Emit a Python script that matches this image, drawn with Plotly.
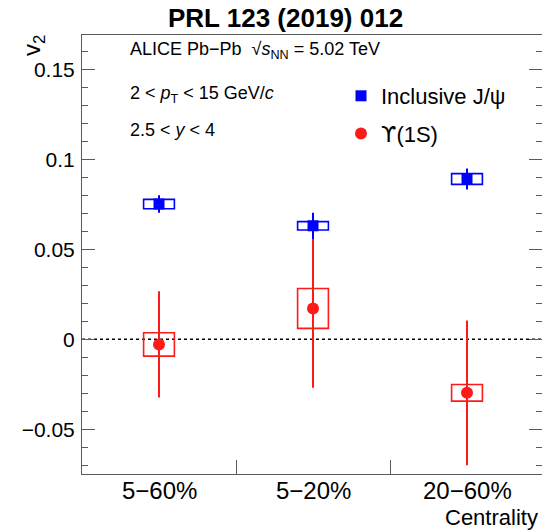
import plotly.graph_objects as go

# Centrality classes and bin centres on the category axis
centrality = ["5−60%", "5−20%", "20−60%"]
bin_centres = [0.5, 1.5, 2.5]

# Inclusive J/psi v2 with statistical and systematic uncertainties
jpsi_v2 = [0.0752, 0.0631, 0.0891]
jpsi_stat = [0.0048, 0.0073, 0.0058]
jpsi_syst = [0.0026, 0.0023, 0.0030]

# Upsilon(1S) v2 with statistical and systematic uncertainties
ups_v2 = [-0.0028, 0.0172, -0.0297]
ups_stat = [0.0295, 0.0441, 0.0402]
ups_syst = [0.0065, 0.0111, 0.0046]

BOX_HALF_WIDTH = 0.1
BLUE = "#0000ff"
RED = "#ff1a1a"
AXIS = "#5a5a5a"
FONT = "Liberation Sans, Arial, Helvetica, sans-serif"

# plot-area geometry (pixels) used to place free text in paper coordinates
L, R, T, B = 82, 542, 35, 474
W, H = R - L, B - T


def px(x):
    return (x - L) / W


def py(y):
    return (B - y) / H


fig = go.Figure()

fig.add_trace(go.Scatter(
    x=bin_centres, y=ups_v2, mode="markers",
    name="<span style=\"font-family:'DejaVu Sans'\">ϒ</span>(1S)",
    legendgroup="ups", legendrank=2,
    marker=dict(symbol="circle", size=12, color=RED),
    error_y=dict(type="data", array=ups_stat, color=RED, thickness=2, width=0),
))
fig.add_trace(go.Scatter(
    x=bin_centres, y=jpsi_v2, mode="markers", name="Inclusive J/ψ",
    legendgroup="jpsi", legendrank=1,
    marker=dict(symbol="square", size=11, color=BLUE),
    error_y=dict(type="data", array=jpsi_stat, color=BLUE, thickness=2, width=0),
))

shapes = []
# systematic-uncertainty boxes
for xs, vs, ss, col in ((bin_centres, ups_v2, ups_syst, RED),
                        (bin_centres, jpsi_v2, jpsi_syst, BLUE)):
    for x, v, s in zip(xs, vs, ss):
        shapes.append(dict(type="rect", xref="x", yref="y",
                           x0=x - BOX_HALF_WIDTH, x1=x + BOX_HALF_WIDTH,
                           y0=v - s, y1=v + s,
                           line=dict(color=col, width=1.6),
                           fillcolor="rgba(0,0,0,0)", layer="below"))
# zero reference line
shapes.append(dict(type="line", xref="x domain", yref="y", x0=0, x1=1, y0=0, y1=0,
                   line=dict(color="black", width=1.5, dash="3px,3px"), layer="below"))

annotations = []
for x, lab in zip(bin_centres, centrality):
    annotations.append(dict(x=x, xref="x", y=py(490), yref="paper", text=lab,
                            showarrow=False, font=dict(size=24, color="black"),
                            xanchor="center", yanchor="middle"))
annotations += [
    dict(x=px(285), y=py(18), xref="paper", yref="paper", text="<b>PRL 123 (2019) 012</b>",
         showarrow=False, font=dict(size=26, color="black"), xanchor="center", yanchor="middle"),
    dict(x=px(540), y=py(517), xref="paper", yref="paper", text="Centrality",
         showarrow=False, font=dict(size=22, color="black"), xanchor="right", yanchor="middle"),
    dict(x=px(34), y=py(46), xref="paper", yref="paper", text="v<sub>2</sub>",
         showarrow=False, textangle=-90, font=dict(size=24, color="black"),
         xanchor="center", yanchor="middle"),
    dict(x=px(128), y=py(51), xref="paper", yref="paper",
         text="ALICE Pb−Pb  √<i>s</i><sub>NN</sub> = 5.02 TeV",
         showarrow=False, font=dict(size=18, color="black"), xanchor="left", yanchor="middle"),
    dict(x=px(128), y=py(94), xref="paper", yref="paper",
         text="2 < <i>p</i><sub>T</sub> < 15 GeV/<i>c</i>",
         showarrow=False, font=dict(size=18, color="black"), xanchor="left", yanchor="middle"),
    dict(x=px(128), y=py(130), xref="paper", yref="paper",
         text="2.5 < <i>y</i> < 4",
         showarrow=False, font=dict(size=18, color="black"), xanchor="left", yanchor="middle"),
]

fig.update_layout(
    width=542, height=531,
    margin=dict(l=L, r=542 - R, t=T, b=531 - B, pad=0),
    paper_bgcolor="white", plot_bgcolor="white",
    font=dict(family=FONT, color="black"),
    shapes=shapes, annotations=annotations,
    showlegend=True,
    legend=dict(x=px(341), y=py(75), xanchor="left", yanchor="top",
                bgcolor="rgba(0,0,0,0)", font=dict(size=22),
                traceorder="grouped", tracegroupgap=6,
                itemclick=False),
    xaxis=dict(range=[0, (R - L) / 154.0], showline=True, linecolor=AXIS, linewidth=1,
               mirror=True, ticks="inside", tickmode="array", tickvals=[1, 2],
               ticklen=14, tickcolor=AXIS, tickwidth=1, showticklabels=False,
               showgrid=False, zeroline=False, fixedrange=True),
    yaxis=dict(range=[-0.0748, 0.1691], showline=True, linecolor=AXIS, linewidth=1,
               mirror="ticks", ticks="inside", tick0=0, dtick=0.05, ticklen=13,
               tickcolor=AXIS, tickwidth=1, tickfont=dict(size=21, color="black"),
               minor=dict(tickmode="linear", tick0=0, dtick=0.01, ticks="inside",
                          ticklen=6, tickcolor=AXIS, tickwidth=1),
               showgrid=False, zeroline=False, ticklabelstandoff=2, fixedrange=True),
)

fig.write_html("out.html")
